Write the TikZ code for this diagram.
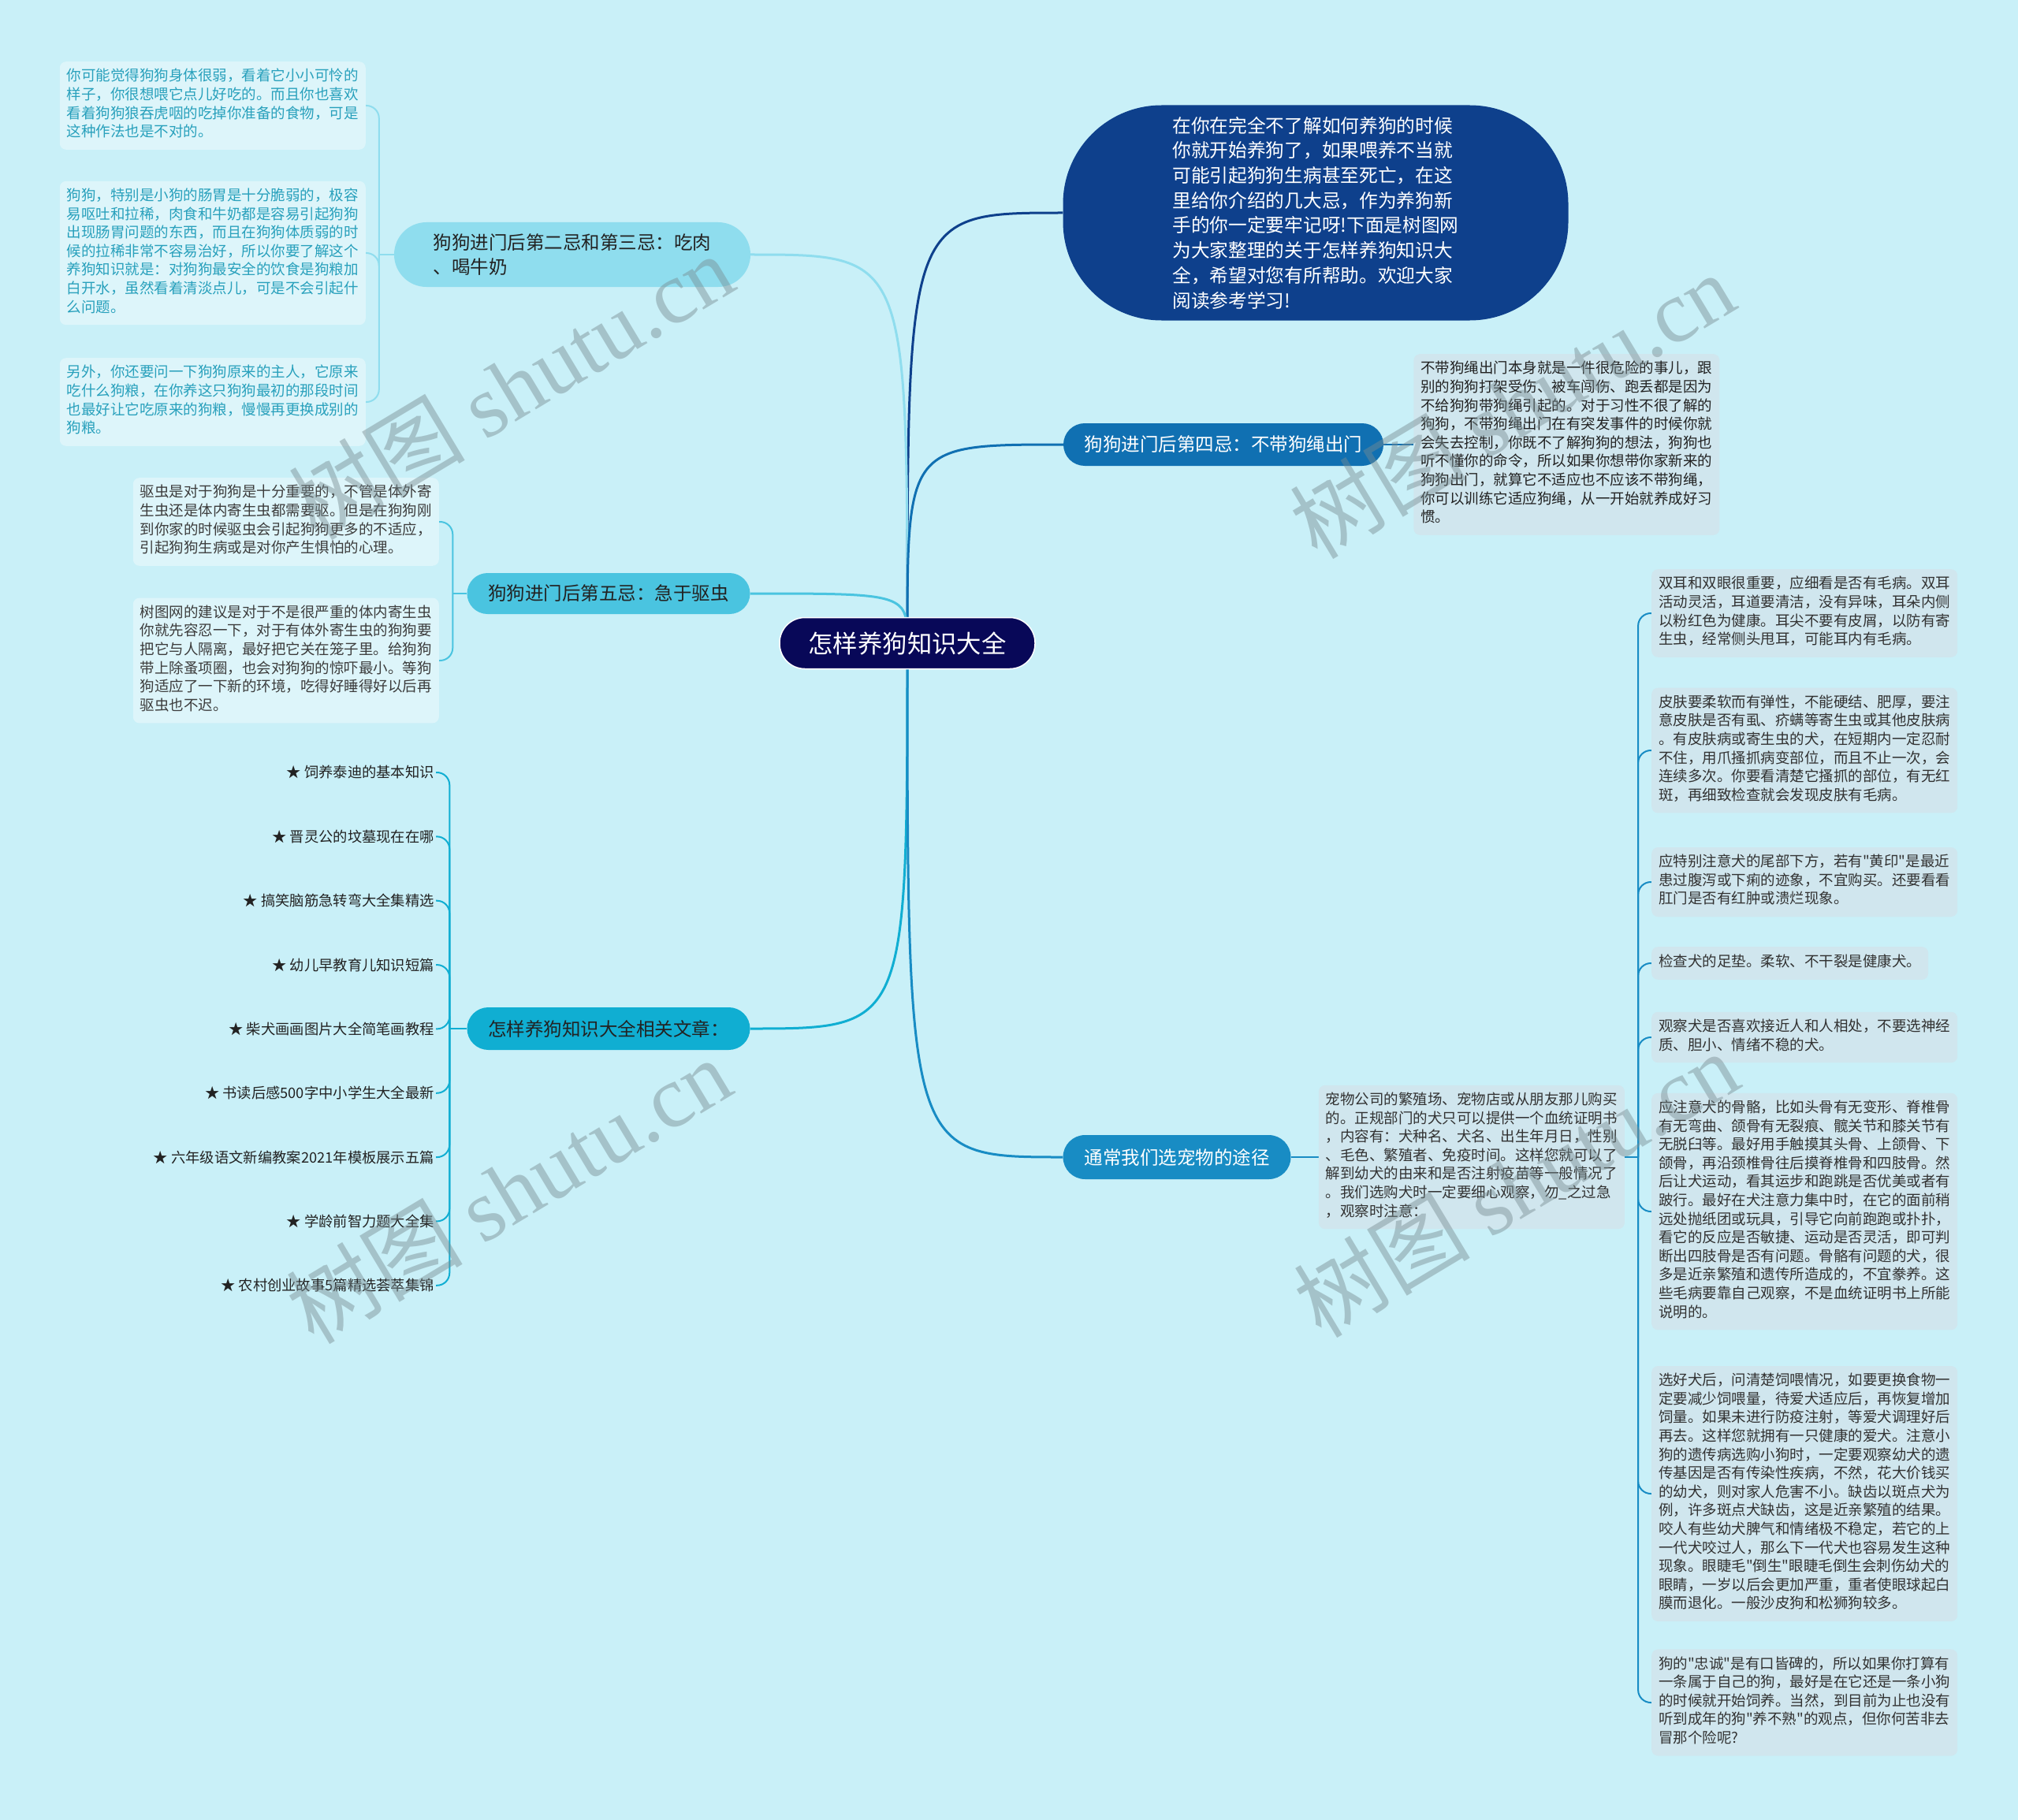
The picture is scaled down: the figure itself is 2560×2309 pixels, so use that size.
\documentclass[tikz,border=0pt]{standalone}
\usepackage{fontspec}
\setmainfont{Noto Sans CJK SC}[Ligatures=TeXOff]
\newfontfamily\wmfont{Liberation Serif}
\usetikzlibrary{positioning}

\definecolor{bgc}{RGB}{201,240,248}
\definecolor{rootc}{RGB}{8,8,88}
\definecolor{introc}{RGB}{14,64,140}
\definecolor{b1c}{RGB}{143,221,238}
\definecolor{b2c}{RGB}{16,112,178}
\definecolor{b3c}{RGB}{74,196,224}
\definecolor{b4c}{RGB}{16,174,210}
\definecolor{b5c}{RGB}{24,140,196}
\definecolor{leafl}{RGB}{221,245,250}
\definecolor{leafr}{RGB}{208,230,238}
\definecolor{darkc}{RGB}{34,34,34}
\definecolor{l1text}{RGB}{40,160,188}
\definecolor{l3text}{RGB}{60,60,60}
\definecolor{l5text}{RGB}{50,50,50}
\definecolor{wmc}{RGB}{120,140,145}

\pgfdeclarelayer{bg}
\pgfsetlayers{bg,main}

\newcommand\leaffont{\fontsize{18.5}{23.6}\selectfont}
\newcommand\branchfont{\fontsize{23.5}{31}\selectfont}
\newcommand\introfont{\fontsize{23.7}{31.7}\selectfont}
\newcommand\rootfont{\fontsize{31.4}{36}\selectfont}
\newcommand\artfont{\fontsize{18.3}{22}\selectfont}
\newcommand\wmsize{\fontsize{112}{112}\selectfont}

\begin{document}
\begin{tikzpicture}[x=1pt, y=-1pt,
    pill/.style={align=center, inner sep=0pt},
    leaf/.style={rounded corners=8pt, align=left, inner xsep=9pt, inner ysep=9pt, font=\leaffont,
                 execute at begin node=\strut, execute at end node=\strut},
    trunk/.style={line width=3pt},
    twig/.style={line width=2pt, rounded corners=16pt},
    art/.style={anchor=east, inner sep=2pt, font=\artfont, text=darkc},
    wmark/.style={rotate=31, text=wmc, opacity=.45, font=\wmsize}]
\useasboundingbox (0,0) rectangle (2560,2309);

% centre and first level
\node[pill, fill=rootc, draw=white, line width=1.5pt, rounded corners=32pt, minimum width=324pt,
      minimum height=65pt, text=white, font=\rootfont] (root) at (1151,816) {怎样养狗知识大全};
\node[pill, fill=introc, rounded corners=125pt, minimum width=641pt, minimum height=273pt,
      text=white, font=\introfont, align=left] (intro) at (1669,270)
      {在你在完全不了解如何养狗的时候\\你就开始养狗了，如果喂养不当就\\可能引起狗狗生病甚至死亡，在这\\里给你介绍的几大忌，作为养狗新\\手的你一定要牢记呀!下面是树图网\\为大家整理的关于怎样养狗知识大\\全，希望对您有所帮助。欢迎大家\\阅读参考学习!};
\node[pill, fill=b1c, rounded corners=41pt, minimum width=452pt, minimum height=82pt,
      align=left, text=darkc, font=\branchfont] (b1) at (726,323) {狗狗进门后第二忌和第三忌：吃肉\\、喝牛奶};
\node[pill, fill=b2c, rounded corners=27pt, minimum width=406pt, minimum height=54pt,
      text=white, font=\branchfont] (b2) at (1552,564) {狗狗进门后第四忌：不带狗绳出门};
\node[pill, fill=b3c, rounded corners=26pt, minimum width=359pt, minimum height=52pt,
      text=darkc, font=\branchfont] (b3) at (772,753) {狗狗进门后第五忌：急于驱虫};
\node[pill, fill=b4c, rounded corners=27pt, minimum width=359pt, minimum height=54pt,
      text=darkc, font=\branchfont] (b4) at (772,1305) {怎样养狗知识大全相关文章：};
\node[pill, fill=b5c, rounded corners=28pt, minimum width=289pt, minimum height=56pt,
      text=white, font=\branchfont] (b5) at (1493,1468) {通常我们选宠物的途径};

% leaves of b1
\node[leaf, fill=leafl, text=l1text, anchor=east] (l1a) at (464,134)
  {你可能觉得狗狗身体很弱，看着它小小可怜的\\样子，你很想喂它点儿好吃的。而且你也喜欢\\看着狗狗狼吞虎咽的吃掉你准备的食物，可是\\这种作法也是不对的。};
\node[leaf, fill=leafl, text=l1text, anchor=east] (l1b) at (464,321)
  {狗狗，特别是小狗的肠胃是十分脆弱的，极容\\易呕吐和拉稀，肉食和牛奶都是容易引起狗狗\\出现肠胃问题的东西，而且在狗狗体质弱的时\\候的拉稀非常不容易治好，所以你要了解这个\\养狗知识就是：对狗狗最安全的饮食是狗粮加\\白开水，虽然看着清淡点儿，可是不会引起什\\么问题。};
\node[leaf, fill=leafl, text=l1text, anchor=east] (l1c) at (464,510)
  {另外，你还要问一下狗狗原来的主人，它原来\\吃什么狗粮，在你养这只狗狗最初的那段时间\\也最好让它吃原来的狗粮，慢慢再更换成别的\\狗粮。};

% leaves of b3
\node[leaf, fill=leafl, text=l3text, anchor=east] (l3a) at (557,662)
  {驱虫是对于狗狗是十分重要的，不管是体外寄\\生虫还是体内寄生虫都需要驱。但是在狗狗刚\\到你家的时候驱虫会引起狗狗更多的不适应，\\引起狗狗生病或是对你产生惧怕的心理。};
\node[leaf, fill=leafl, text=l3text, anchor=east] (l3b) at (557,838)
  {树图网的建议是对于不是很严重的体内寄生虫\\你就先容忍一下，对于有体外寄生虫的狗狗要\\把它与人隔离，最好把它关在笼子里。给狗狗\\带上除蚤项圈，也会对狗狗的惊吓最小。等狗\\狗适应了一下新的环境，吃得好睡得好以后再\\驱虫也不迟。};

% related articles
\foreach \t [count=\i] in {饲养泰迪的基本知识, 晋灵公的坟墓现在在哪, 搞笑脑筋急转弯大全集精选,
    幼儿早教育儿知识短篇, 柴犬画画图片大全简笔画教程, 书读后感500字中小学生大全最新,
    六年级语文新编教案2021年模板展示五篇, 学龄前智力题大全集, 农村创业故事5篇精选荟萃集锦}
  \node[art] (a\i) at (553,{980+81.35*(\i-1)}) {★ \t};

% leaf of b2
\node[leaf, fill=leafr, text=darkc, right=38pt of b2] (l2)
  {不带狗绳出门本身就是一件很危险的事儿，跟\\别的狗狗打架受伤、被车闯伤、跑丢都是因为\\不给狗狗带狗绳引起的。对于习性不很了解的\\狗狗，不带狗绳出门在有突发事件的时候你就\\会失去控制，你既不了解狗狗的想法，狗狗也\\听不懂你的命令，所以如果你想带你家新来的\\狗狗出门，就算它不适应也不应该不带狗绳，\\你可以训练它适应狗绳，从一开始就养成好习\\惯。};

% leaves of b5
\node[leaf, fill=leafr, text=l5text, right=35pt of b5] (l5)
  {宠物公司的繁殖场、宠物店或从朋友那儿购买\\的。正规部门的犬只可以提供一个血统证明书\\，内容有：犬种名、犬名、出生年月日，性别\\、毛色、繁殖者、免疫时间。这样您就可以了\\解到幼犬的由来和是否注射疫苗等一般情况了\\。我们选购犬时一定要细心观察，勿\_之过急\\，观察时注意：};
\node[leaf, fill=leafr, text=l5text, anchor=west] (r1) at (2095,778)
  {双耳和双眼很重要，应细看是否有毛病。双耳\\活动灵活，耳道要清洁，没有异味，耳朵内侧\\以粉红色为健康。耳尖不要有皮屑，以防有寄\\生虫，经常侧头甩耳，可能耳内有毛病。};
\node[leaf, fill=leafr, text=l5text, anchor=west] (r2) at (2095,952)
  {皮肤要柔软而有弹性，不能硬结、肥厚，要注\\意皮肤是否有虱、疥螨等寄生虫或其他皮肤病\\。有皮肤病或寄生虫的犬，在短期内一定忍耐\\不住，用爪搔抓病变部位，而且不止一次，会\\连续多次。你要看清楚它搔抓的部位，有无红\\斑，再细致检查就会发现皮肤有毛病。};
\node[leaf, fill=leafr, text=l5text, anchor=west] (r3) at (2095,1119)
  {应特别注意犬的尾部下方，若有"黄印"是最近\\患过腹泻或下痢的迹象，不宜购买。还要看看\\肛门是否有红肿或溃烂现象。};
\node[leaf, fill=leafr, text=l5text, anchor=west] (r4) at (2095,1222)
  {检查犬的足垫。柔软、不干裂是健康犬。};
\node[leaf, fill=leafr, text=l5text, anchor=west] (r5) at (2095,1316)
  {观察犬是否喜欢接近人和人相处，不要选神经\\质、胆小、情绪不稳的犬。};
\node[leaf, fill=leafr, text=l5text, anchor=west] (r6) at (2095,1537)
  {应注意犬的骨骼，比如头骨有无变形、脊椎骨\\有无弯曲、颌骨有无裂痕、髋关节和膝关节有\\无脱臼等。最好用手触摸其头骨、上颌骨、下\\颌骨，再沿颈椎骨往后摸脊椎骨和四肢骨。然\\后让犬运动，看其运步和跑跳是否优美或者有\\跛行。最好在犬注意力集中时，在它的面前稍\\远处抛纸团或玩具，引导它向前跑跑或扑扑，\\看它的反应是否敏捷、运动是否灵活，即可判\\断出四肢骨是否有问题。骨骼有问题的犬，很\\多是近亲繁殖和遗传所造成的，不宜豢养。这\\些毛病要靠自己观察，不是血统证明书上所能\\说明的。};
\node[leaf, fill=leafr, text=l5text, anchor=west] (r7) at (2095,1895)
  {选好犬后，问清楚饲喂情况，如要更换食物一\\定要减少饲喂量，待爱犬适应后，再恢复增加\\饲量。如果未进行防疫注射，等爱犬调理好后\\再去。这样您就拥有一只健康的爱犬。注意小\\狗的遗传病选购小狗时，一定要观察幼犬的遗\\传基因是否有传染性疾病，不然，花大价钱买\\的幼犬，则对家人危害不小。缺齿以斑点犬为\\例，许多斑点犬缺齿，这是近亲繁殖的结果。\\咬人有些幼犬脾气和情绪极不稳定，若它的上\\一代犬咬过人，那么下一代犬也容易发生这种\\现象。眼睫毛"倒生"眼睫毛倒生会刺伤幼犬的\\眼睛，一岁以后会更加严重，重者使眼球起白\\膜而退化。一般沙皮狗和松狮狗较多。};
\node[leaf, fill=leafr, text=l5text, anchor=west] (r8) at (2095,2160)
  {狗的"忠诚"是有口皆碑的，所以如果你打算有\\一条属于自己的狗，最好是在它还是一条小狗\\的时候就开始饲养。当然，到目前为止也没有\\听到成年的狗"养不熟"的观点，但你何苦非去\\冒那个险呢?};

% connectors, behind the boxes
\begin{pgfonlayer}{bg}
\fill[bgc] (0,0) rectangle (2560,2309);
\draw[trunk, introc] (root.center) .. controls (root.center |- intro.west) .. (intro.west);
\draw[trunk, b1c] (root.center) .. controls (root.center |- b1.east) .. (b1.east);
\draw[trunk, b2c] (root.center) .. controls (root.center |- b2.west) .. (b2.west);
\draw[trunk, b3c] (root.center) .. controls (root.center |- b3.east) .. (b3.east);
\draw[trunk, b4c] (root.center) .. controls (root.center |- b4.east) .. (b4.east);
\draw[trunk, b5c] (root.center) .. controls (root.center |- b5.west) .. (b5.west);

\path (b1.west) ++(-19,0) coordinate (j1);
\draw[twig, b1c] (b1.west) -- (j1);
\foreach \c in {l1a,l1b,l1c} \draw[twig, b1c] (j1) |- (\c.east);

\path (b3.west) ++(-18,0) coordinate (j3);
\draw[twig, b3c] (b3.west) -- (j3);
\foreach \c in {l3a,l3b} \draw[twig, b3c] (j3) |- (\c.east);

\path (b4.west) ++(-22,0) coordinate (j4);
\draw[twig, b4c] (b4.west) -- (j4);
\foreach \i in {1,...,9} \draw[twig, b4c] (j4) |- (a\i.east);

\draw[twig, b2c] (b2.east) -- (l2.west);
\draw[twig, b5c] (b5.east) -- (l5.west);

\path (l5.east) ++(17,0) coordinate (j5);
\draw[twig, b5c] (l5.east) -- (j5);
\foreach \c in {r1,r2,r3,r4,r5,r6,r7,r8} \draw[twig, b5c] (j5) |- (\c.west);
\end{pgfonlayer}

% watermarks
\node[wmark] at (648,490) {树图 {\wmfont shutu.cn}};
\node[wmark] at (1918,514) {树图 {\wmfont shutu.cn}};
\node[wmark] at (645,1510) {树图 {\wmfont shutu.cn}};
\node[wmark] at (1923,1502) {树图 {\wmfont shutu.cn}};
\end{tikzpicture}
\end{document}
